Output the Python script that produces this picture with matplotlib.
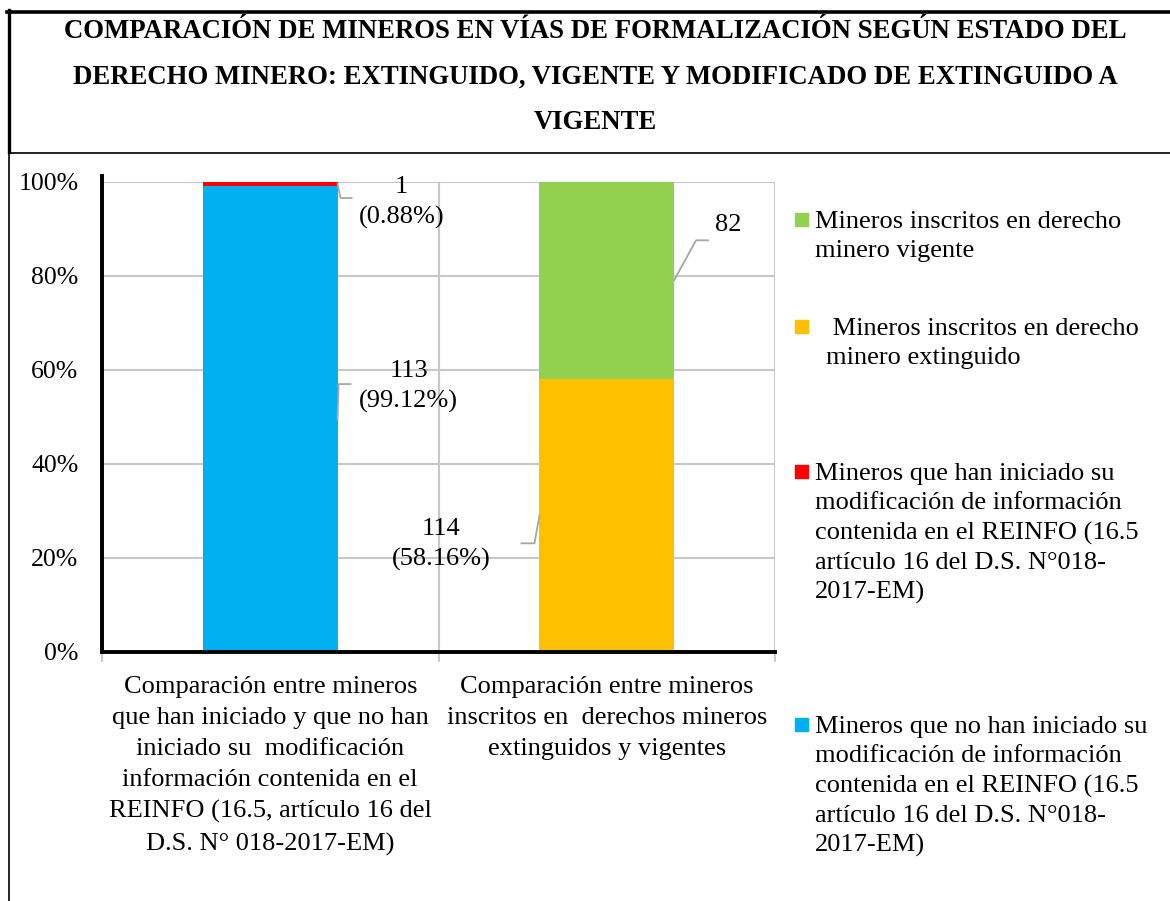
import matplotlib.pyplot as plt
import matplotlib.transforms as mtransforms
from matplotlib.lines import Line2D
from matplotlib.patches import Rectangle

plt.rcParams['font.family'] = ['Liberation Serif', 'DejaVu Serif']

# data
categories = [
    'Comparación entre mineros\nque han iniciado y que no han\niniciado su  modificación\ninformación contenida en el\nREINFO (16.5, artículo 16 del\nD.S. N° 018-2017-EM)',
    'Comparación entre mineros\ninscritos en  derechos mineros\nextinguidos y vigentes',
]
no_iniciado = [113, 0]
iniciado = [1, 0]
extinguido = [0, 114]
vigente = [0, 82]

series_names = [
    'Mineros que no han iniciado su\nmodificación de información\ncontenida en el REINFO (16.5\nartículo 16 del D.S. N°018-\n2017-EM)',
    'Mineros que han iniciado su\nmodificación de información\ncontenida en el REINFO (16.5\nartículo 16 del D.S. N°018-\n2017-EM)',
    ' Mineros inscritos en derecho\nminero extinguido',
    'Mineros inscritos en derecho\nminero vigente',
]
colors = ['#00B0F0', '#FF0000', '#FFC000', '#92D050']
title = ('COMPARACIÓN DE MINEROS EN VÍAS DE FORMALIZACIÓN SEGÚN ESTADO DEL\n'
         'DERECHO MINERO: EXTINGUIDO, VIGENTE Y MODIFICADO DE EXTINGUIDO A\n'
         'VIGENTE')

W, H = 1170, 901
fig = plt.figure(figsize=(W / 100, H / 100), dpi=100)


def fx(x):
    return x / W


def fy(y):
    return 1 - y / H


ax = fig.add_axes([fx(102), fy(652), fx(775) - fx(102), fy(182) - fy(652)])

series = [no_iniciado, iniciado, extinguido, vigente]
totals = [sum(s[i] for s in series) for i in range(len(categories))]
pcts = [[100 * s[i] / totals[i] for i in range(len(categories))] for s in series]

x = list(range(len(categories)))
bottom = [0] * len(categories)
for p, c in zip(pcts, colors):
    ax.bar(x, p, width=0.4, bottom=bottom, color=c, zorder=3)
    bottom = [bo + v for bo, v in zip(bottom, p)]

ax.set_xlim(-0.5, 1.5)
ax.set_ylim(0, 100)
ax.set_yticks([0, 20, 40, 60, 80, 100])
ax.set_yticklabels([f'{v}%' for v in [0, 20, 40, 60, 80, 100]], fontsize=18.5)
ax.set_xticks(x)
ax.set_xticklabels(categories, fontsize=19, linespacing=1.53)
ax.set_xticks([-0.5, 0.5, 1.5], minor=True)
ax.tick_params(axis='y', length=0, pad=17)
ax.tick_params(axis='x', which='major', length=0, pad=17)
ax.tick_params(axis='x', which='minor', length=7, color='#c0c0c0', width=1.2)
ax.grid(True, axis='y', color='#c8c8c8', lw=1.5, zorder=0)
ax.grid(True, axis='x', which='minor', color='#c8c8c8', lw=1.5, zorder=0)
for s in ['top', 'right']:
    ax.spines[s].set_visible(False)
for s in ['left', 'bottom']:
    ax.spines[s].set_linewidth(2.8)
    ax.spines[s].set_zorder(4)
ax.spines['left'].set_bounds(0, 101.3)

# data labels with leader lines (offsets in pixels)
lead_col = '#a6a6a6'


def label(xi, si, txt, pts, toff):
    seg_bottom = sum(pcts[k][xi] for k in range(si))
    yc = seg_bottom + pcts[si][xi] / 2
    side = 0.2 if toff[0] > 0 else -0.2
    bx, by = ax.transData.transform((x[xi] + side, yc))
    xs = [bx + dx for dx, dy in pts]
    ys = [by + dy for dx, dy in pts]
    fig.add_artist(Line2D(xs, ys, transform=mtransforms.IdentityTransform(),
                          color=lead_col, lw=1.3))
    fig.text((bx + toff[0]) / W, (by + toff[1]) / H, txt, fontsize=19,
             ha='center', va='center', multialignment='center', linespacing=1.45)


label(0, 1, f'{iniciado[0]}\n({pcts[1][0]:.2f}%)', [(0, 0), (3, -14), (14, -14)], (64, -18))
label(0, 0, f'{no_iniciado[0]}\n({pcts[0][0]:.2f}%)', [(0, 0), (1, 35), (13, 35)], (71, 33))
label(1, 3, f'{vigente[1]}', [(0, 0), (22, 40), (34, 40)], (54, 55))
label(1, 2, f'{extinguido[1]}\n({pcts[2][1]:.2f}%)', [(0, 0), (-5, -28), (-18, -28)], (-98, -29))

# legend
leg_items = [(3, 213, 815), (2, 320, 826), (1, 465, 815), (0, 718, 815)]
for si, ytop, xt in leg_items:
    fig.add_artist(Rectangle((fx(795), fy(ytop + 13)), fx(13), 13 / H,
                             color=colors[si], transform=fig.transFigure))
    fig.text(fx(xt), fy(ytop - 2), series_names[si], fontsize=19,
             ha='left', va='top', linespacing=1.42)

# title box
fig.text(fx(595), fy(77), title, fontsize=19.3, fontweight='bold',
         ha='center', va='center', multialignment='center', linespacing=2.1)
fig.add_artist(Line2D([fx(7), fx(1170)], [fy(11.5), fy(11.5)], color='black', lw=2.6))
fig.add_artist(Line2D([fx(9), fx(9)], [fy(10), fy(152)], color='black', lw=2.4))
fig.add_artist(Line2D([fx(9), fx(1170)], [fy(152.5), fy(152.5)], color='black', lw=1.2))
fig.add_artist(Line2D([fx(9), fx(9)], [fy(152), fy(901)], color='black', lw=1.2))

fig.savefig('out.png', dpi=100)
